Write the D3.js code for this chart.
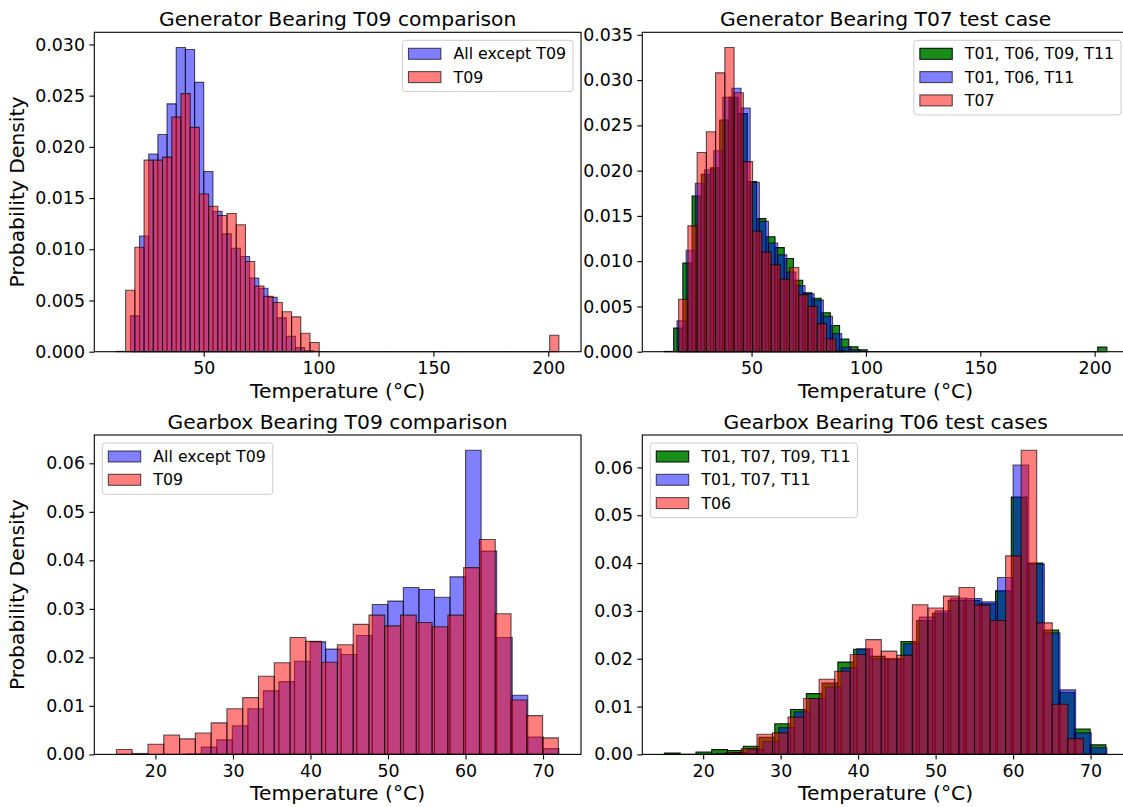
<!DOCTYPE html>
<html>
<head>
<meta charset="utf-8">
<script src="https://cdn.jsdelivr.net/npm/d3@7"></script>
<style>
  body { margin: 0; background: #fff; }
  svg { display: block; font-family: "DejaVu Sans", sans-serif; }
</style>
</head>
<body>
<svg id="chart" width="1123" height="807"></svg>
<script>
// ---- Generator bearing, T09 comparison (density per bin) ----
const genAllExceptT09Start = 18.07, genAllExceptT09Width = 3.994;
const genAllExceptT09 = [0.0035, 0.0113, 0.0193, 0.0212, 0.0242, 0.0297, 0.0295, 0.0263, 0.0176, 0.0137,
  0.0115, 0.0101, 0.0093, 0.0072, 0.0062, 0.0053, 0.0033, 0.0015, 0.0004, 0.0001];
const genT09Start = 12.0, genT09Width = 4.013;
const genT09 = [0.00003, 0.0060, 0.0102, 0.0187, 0.0187, 0.0190, 0.0229, 0.0252, 0.0219, 0.0154,
  0.0142, 0.0133, 0.0135, 0.0124, 0.0088, 0.0064, 0.0054, 0.0048, 0.0039, 0.0034, 0.0018, 0.0009,
  0, 0, 0, 0, 0, 0, 0, 0, 0, 0, 0, 0, 0, 0, 0, 0, 0, 0, 0, 0, 0, 0, 0, 0, 0,
  0.0016];

// ---- Generator bearing, T07 test case ----
const genT01T06T09T11Start = 11.9, genT01T06T09T11Width = 4.03;
const genT01T06T09T11 = [0.00003, 0.0026, 0.0098, 0.0172, 0.0196, 0.0203, 0.0256, 0.0281, 0.0263, 0.0188,
  0.0147, 0.0127, 0.0115, 0.0103, 0.0079, 0.0065, 0.0059, 0.0043, 0.0029, 0.0014, 0.00055, 0.0002,
  0, 0, 0, 0, 0, 0, 0, 0, 0, 0, 0, 0, 0, 0, 0, 0, 0, 0, 0, 0, 0, 0, 0, 0, 0,
  0.0005];
const genT01T06T11Start = 17.4, genT01T06T11Width = 4.0;
const genT01T06T11 = [0.0034, 0.0112, 0.0186, 0.0201, 0.0222, 0.0281, 0.0291, 0.0269, 0.0187, 0.0144,
  0.0120, 0.0107, 0.0088, 0.0073, 0.0064, 0.0057, 0.0039, 0.0020, 0.0005, 0.0002];
const genT07Start = 18.12, genT07Width = 4.04;
const genT07 = [0.0058, 0.0139, 0.0220, 0.0243, 0.0308, 0.0336, 0.0286, 0.0210, 0.0133, 0.0110,
  0.0096, 0.0080, 0.0093, 0.0063, 0.0050, 0.0031, 0.0014, 0.0001];

// ---- Gearbox bearing, T09 comparison ----
const gbAllExceptT09Start = 23.9, gbAllExceptT09Width = 2.006;
const gbAllExceptT09 = [0.0001, 0.0015, 0.0030, 0.0059, 0.0094, 0.0131, 0.0150, 0.0192, 0.0232, 0.0217,
  0.0206, 0.0245, 0.0309, 0.0316, 0.0344, 0.0340, 0.0324, 0.0366, 0.0627, 0.0419,
  0.0241, 0.0122, 0.0036, 0.0012];
const gbT09Start = 14.97, gbT09Width = 2.036;
const gbT09 = [0.0010, 0.0002, 0.0021, 0.0040, 0.0032, 0.0044, 0.0065, 0.0094, 0.0117, 0.0161,
  0.0189, 0.0241, 0.0233, 0.0190, 0.0226, 0.0268, 0.0287, 0.0265, 0.0287, 0.0272,
  0.0263, 0.0287, 0.0385, 0.0443, 0.0290, 0.0112, 0.0080, 0.0034];

// ---- Gearbox bearing, T06 test cases ----
const gbT01T07T09T11Start = 15.0, gbT01T07T09T11Width = 2.035;
const gbT01T07T09T11 = [0.0003, 0, 0.0005, 0.0010, 0.0008, 0.0017, 0.0036, 0.0064, 0.0094, 0.0127,
  0.0149, 0.0193, 0.0220, 0.0205, 0.0200, 0.0236, 0.0280, 0.0295, 0.0322, 0.0322,
  0.0315, 0.0342, 0.0538, 0.0400, 0.0260, 0.0130, 0.0053, 0.0020];
const gbT01T07T11Start = 21.68, gbT01T07T11Width = 2.017;
const gbT01T07T11 = [0.0002, 0.0004, 0.0010, 0.0027, 0.0056, 0.0089, 0.0117, 0.0141, 0.0181, 0.0221,
  0.0200, 0.0199, 0.0232, 0.0287, 0.0300, 0.0327, 0.0326, 0.0319, 0.0370, 0.0605,
  0.0398, 0.0254, 0.0135, 0.0045, 0.0014];
const gbT06Start = 22.93, gbT06Width = 2.006;
const gbT06 = [0.00035, 0.0012, 0.0042, 0.0045, 0.0078, 0.0117, 0.0157, 0.0174, 0.0209, 0.0240,
  0.0216, 0.0207, 0.0313, 0.0306, 0.0331, 0.0349, 0.0312, 0.0280, 0.0415, 0.0636,
  0.0275, 0.0105, 0.0033];

// ---- Tick values ----
const genTicksX = [50, 100, 150, 200];
const genT09TicksY = [0, 0.005, 0.010, 0.015, 0.020, 0.025, 0.030];
const genT07TicksY = [0, 0.005, 0.010, 0.015, 0.020, 0.025, 0.030, 0.035];
const gbTicksX = [20, 30, 40, 50, 60, 70];
const gbTicksY = [0, 0.01, 0.02, 0.03, 0.04, 0.05, 0.06];

// ---- Styles ----
const BLUE = { color: "#0000ff", alpha: 0.5, edge: 0.65 };
const RED = { color: "#ff0000", alpha: 0.5, edge: 0.65 };
const GREEN = { color: "#008000", alpha: 0.9, edge: 0.9 };

const mk = (label, style, start, width, values) => ({ label, ...style, start, width, values });

const panels = [
  {
    left: 94.3, top: 32.3, title: "Generator Bearing T09 comparison",
    series: [
      mk("All except T09", BLUE, genAllExceptT09Start, genAllExceptT09Width, genAllExceptT09),
      mk("T09", RED, genT09Start, genT09Width, genT09)
    ],
    xTicks: genTicksX, yTicks: genT09TicksY, yFmt: d3.format(".3f"), legend: "right", ylabel: true
  },
  {
    left: 642.3, top: 32.3, title: "Generator Bearing T07 test case",
    series: [
      mk("T01, T06, T09, T11", GREEN, genT01T06T09T11Start, genT01T06T09T11Width, genT01T06T09T11),
      mk("T01, T06, T11", BLUE, genT01T06T11Start, genT01T06T11Width, genT01T06T11),
      mk("T07", RED, genT07Start, genT07Width, genT07)
    ],
    xTicks: genTicksX, yTicks: genT07TicksY, yFmt: d3.format(".3f"), legend: "right", ylabel: false
  },
  {
    left: 94.3, top: 435, title: "Gearbox Bearing T09 comparison",
    series: [
      mk("All except T09", BLUE, gbAllExceptT09Start, gbAllExceptT09Width, gbAllExceptT09),
      mk("T09", RED, gbT09Start, gbT09Width, gbT09)
    ],
    xTicks: gbTicksX, yTicks: gbTicksY, yFmt: d3.format(".2f"), legend: "left", ylabel: true
  },
  {
    left: 642.3, top: 435, title: "Gearbox Bearing T06 test cases",
    series: [
      mk("T01, T07, T09, T11", GREEN, gbT01T07T09T11Start, gbT01T07T09T11Width, gbT01T07T09T11),
      mk("T01, T07, T11", BLUE, gbT01T07T11Start, gbT01T07T11Width, gbT01T07T11),
      mk("T06", RED, gbT06Start, gbT06Width, gbT06)
    ],
    xTicks: gbTicksX, yTicks: gbTicksY, yFmt: d3.format(".2f"), legend: "left", ylabel: false
  }
];

const W = 486.7, H = 319.4;
const TICK_FS = 17.4, TITLE_FS = 20.3, LABEL_FS = 20.3, LEGEND_FS = 15.8;
const svg = d3.select("#chart");

function drawLegend(g, series, corner) {
  const rowH = 23.3;
  const lg = g.append("g");
  const box = lg.append("rect");
  series.forEach((s, i) => {
    const cy = 13.5 + i * rowH;
    lg.append("rect")
      .attr("x", 6).attr("y", cy - 5.5).attr("width", 32.4).attr("height", 11)
      .attr("fill", s.color).attr("fill-opacity", s.alpha)
      .attr("stroke", "#000").attr("stroke-opacity", s.edge).attr("stroke-width", 1.1);
  });
  const texts = series.map((s, i) => lg.append("text")
    .attr("x", 51).attr("y", 13.5 + i * rowH).attr("dy", "0.36em")
    .attr("font-size", LEGEND_FS).attr("fill", "#000").text(s.label));
  const tw = d3.max(texts, t => t.node().getComputedTextLength());
  const bw = 51 + tw + 7;
  const bh = 13.5 + (series.length - 1) * rowH + 14.5;
  box.attr("width", bw).attr("height", bh).attr("rx", 3)
    .attr("fill", "#fff").attr("fill-opacity", 0.8)
    .attr("stroke", "#cccccc").attr("stroke-width", 1);
  const lx = corner === "right" ? W - 8 - bw : 8;
  lg.attr("transform", `translate(${lx},8)`);
}

function drawPanel(p) {
  const g = svg.append("g").attr("transform", `translate(${p.left},${p.top})`);

  const edges = p.series.flatMap(s => [s.start, s.start + s.width * s.values.length]);
  const [lo, hi] = d3.extent(edges);
  const pad = (hi - lo) * 0.05;
  const x = d3.scaleLinear().domain([lo - pad, hi + pad]).range([0, W]);
  const ymax = d3.max(p.series, s => d3.max(s.values)) * 1.05;
  const y = d3.scaleLinear().domain([0, ymax]).range([H, 0]);

  // histogram bars, one layer per series
  p.series.forEach(s => {
    const bins = s.values.map((v, i) => ({ x0: s.start + i * s.width, x1: s.start + (i + 1) * s.width, v }));
    g.append("g").selectAll("path").data(bins).join("path")
      .attr("d", b => `M${x(b.x0)},${y(0)}V${y(b.v)}H${x(b.x1)}V${y(0)}Z`)
      .attr("fill", s.color).attr("fill-opacity", s.alpha)
      .attr("stroke", "#000").attr("stroke-opacity", s.edge).attr("stroke-width", 1.1)
      .attr("stroke-linejoin", "miter");
  });

  // axes
  const xa = g.append("g").attr("transform", `translate(0,${H})`)
    .call(d3.axisBottom(x).tickValues(p.xTicks).tickSize(5).tickSizeOuter(0).tickPadding(5).tickFormat(d3.format("d")));
  const ya = g.append("g")
    .call(d3.axisLeft(y).tickValues(p.yTicks).tickSize(5).tickSizeOuter(0).tickPadding(4.3).tickFormat(p.yFmt));
  [xa, ya].forEach(a => {
    a.attr("font-size", TICK_FS).attr("font-family", "DejaVu Sans, sans-serif");
    a.select(".domain").remove();
    a.selectAll(".tick line").attr("stroke", "#000").attr("stroke-width", 1.1);
    a.selectAll(".tick text").attr("fill", "#000");
  });

  // frame
  g.append("rect").attr("width", W).attr("height", H)
    .attr("fill", "none").attr("stroke", "#000").attr("stroke-width", 1.1);

  // title and labels
  g.append("text").attr("x", W / 2).attr("y", -6.3).attr("text-anchor", "middle")
    .attr("font-size", TITLE_FS).attr("fill", "#000").text(p.title);
  g.append("text").attr("x", W / 2).attr("y", H + 46).attr("text-anchor", "middle")
    .attr("font-size", LABEL_FS).attr("fill", "#000").text("Temperature (°C)");
  if (p.ylabel) {
    g.append("text").attr("transform", `translate(${24 - p.left},${H / 2}) rotate(-90)`)
      .attr("text-anchor", "middle").attr("font-size", LABEL_FS).attr("fill", "#000")
      .text("Probability Density");
  }

  drawLegend(g, p.series, p.legend);
}

panels.forEach(drawPanel);
</script>
</body>
</html>
